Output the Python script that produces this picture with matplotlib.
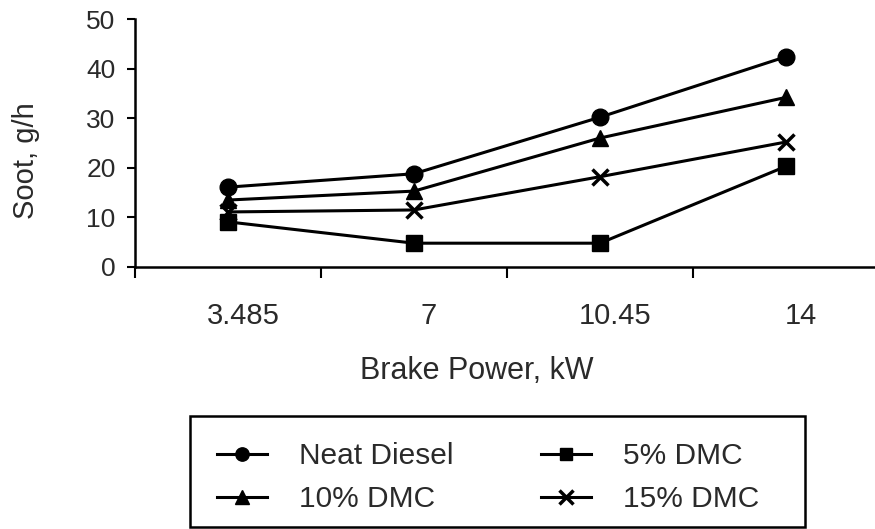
import matplotlib
matplotlib.use("Agg")
import matplotlib.pyplot as plt
import matplotlib.transforms as mtransforms
from matplotlib.patches import Rectangle

plt.rcParams['font.family'] = ['Liberation Sans', 'DejaVu Sans']

# data
power = ['3.485', '7', '10.45', '14']
neat = [16.1, 18.8, 30.2, 42.4]
dmc5 = [9.1, 4.8, 4.8, 20.3]
dmc10 = [13.5, 15.3, 26.0, 34.2]
dmc15 = [11.1, 11.5, 18.2, 25.2]

txt = '#2a2a2a'
x = list(range(len(power)))

fig = plt.figure(figsize=(8.75, 5.29), dpi=100)
ax = fig.add_axes([135/875, 1 - 267/529, 744/875, 248/529])

kw = dict(color='black', lw=2.2, clip_on=False)
l_neat, = ax.plot(x, neat, marker='o', ms=12, label='Neat Diesel', **kw)
l_5, = ax.plot(x, dmc5, marker='s', ms=11, label='5% DMC', **kw)
l_10, = ax.plot(x, dmc10, marker='^', ms=12, label='10% DMC', **kw)
l_15, = ax.plot(x, dmc15, marker='x', ms=12, mew=2.5, label='15% DMC', **kw)

ax.set_xlim(-0.5, 3.5)
ax.set_ylim(0, 50)
ax.set_yticks([0, 10, 20, 30, 40, 50])
ax.tick_params(axis='y', length=6, width=1.5, pad=8, labelsize=19, labelcolor=txt)

# category ticks between points, labels at the points
ax.set_xticks([-0.5, 0.5, 1.5, 2.5, 3.5])
ax.set_xticklabels([])
ax.set_xticks(x, minor=True)
ax.set_xticklabels(power, minor=True)
ax.tick_params(axis='x', which='major', length=8, width=1.5, direction='out')
ax.tick_params(axis='x', which='minor', length=0, pad=25, labelsize=21, labelcolor=txt)
off = mtransforms.ScaledTranslation(0.15, 0, fig.dpi_scale_trans)
for lab in ax.get_xticklabels(minor=True):
    lab.set_transform(lab.get_transform() + off)

for s in ['top', 'right']:
    ax.spines[s].set_visible(False)
for s in ['left', 'bottom']:
    ax.spines[s].set_linewidth(1.8)

ax.set_xlabel('Brake Power, kW', fontsize=22, color=txt)
ax.xaxis.set_label_coords(0.46, -0.36)
ax.set_ylabel('Soot, g/h', fontsize=21, color=txt)
ax.yaxis.set_label_coords(-0.128, 0.43)

fig.patches.append(Rectangle((190/875, 2/529), 615/875, 111/529, transform=fig.transFigure,
                             fill=False, edgecolor='black', lw=1.8))
fig.legend(handles=[l_neat, l_10, l_5, l_15], ncol=2, loc='center',
           bbox_to_anchor=(0.558, 0.097), frameon=False, fontsize=21.5,
           handlelength=1.67, handletextpad=1.07, columnspacing=2.94,
           labelspacing=0.5, markerscale=0.8, labelcolor=txt)

fig.savefig('out.png', dpi=100)
